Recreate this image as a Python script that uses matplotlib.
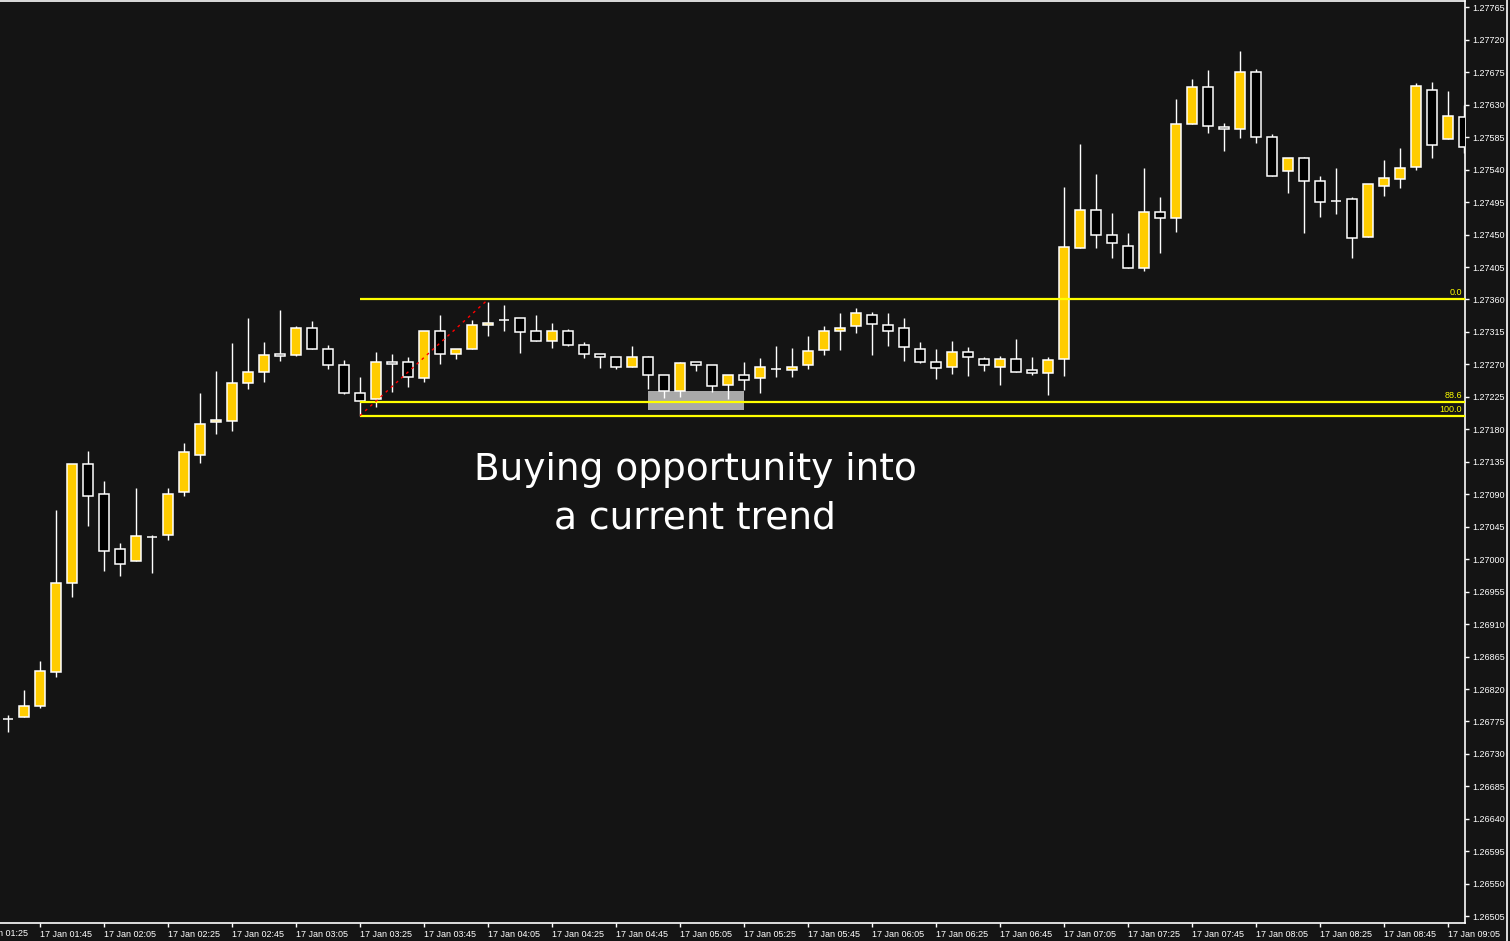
import matplotlib
matplotlib.use("Agg")
import matplotlib.pyplot as plt
from matplotlib.patches import Rectangle
import numpy as np

# 5 minute GBP candles, 17 Jan 01:35 .. 09:10
opens = [1.26778, 1.26781, 1.26797, 1.26843, 1.26967, 1.27132, 1.27090, 1.27014, 1.26997, 1.27031,
         1.27033, 1.27093, 1.27145, 1.27190, 1.27191, 1.27244, 1.27260, 1.27284, 1.27283, 1.27320,
         1.27291, 1.27269, 1.27230, 1.27222, 1.27273, 1.27273, 1.27251, 1.27316, 1.27284, 1.27291,
         1.27324, 1.27331, 1.27334, 1.27316, 1.27303, 1.27317, 1.27297, 1.27284, 1.27280, 1.27267,
         1.27280, 1.27255, 1.27233, 1.27273, 1.27269, 1.27242, 1.27255, 1.27251, 1.27263, 1.27262,
         1.27269, 1.27290, 1.27317, 1.27323, 1.27338, 1.27324, 1.27320, 1.27292, 1.27273, 1.27266,
         1.27287, 1.27277, 1.27266, 1.27278, 1.27262, 1.27258, 1.27277, 1.27432, 1.27484, 1.27449,
         1.27434, 1.27404, 1.27481, 1.27473, 1.27603, 1.27654, 1.27599, 1.27597, 1.27676, 1.27585,
         1.27538, 1.27556, 1.27524, 1.27496, 1.27499, 1.27446, 1.27518, 1.27527, 1.27543, 1.27650,
         1.27582, 1.27613]
highs = [1.26784, 1.26819, 1.26859, 1.27068, 1.27132, 1.27150, 1.27108, 1.27022, 1.27099, 1.27034,
         1.27099, 1.27161, 1.27230, 1.27261, 1.27300, 1.27334, 1.27301, 1.27345, 1.27323, 1.27330,
         1.27297, 1.27276, 1.27253, 1.27287, 1.27284, 1.27280, 1.27316, 1.27339, 1.27292, 1.27332,
         1.27357, 1.27352, 1.27334, 1.27339, 1.27327, 1.27319, 1.27301, 1.27284, 1.27280, 1.27296,
         1.27281, 1.27256, 1.27273, 1.27273, 1.27269, 1.27255, 1.27273, 1.27279, 1.27296, 1.27293,
         1.27309, 1.27323, 1.27341, 1.27348, 1.27343, 1.27341, 1.27334, 1.27301, 1.27291, 1.27302,
         1.27294, 1.27280, 1.27282, 1.27305, 1.27280, 1.27280, 1.27516, 1.27576, 1.27534, 1.27480,
         1.27452, 1.27542, 1.27502, 1.27638, 1.27665, 1.27678, 1.27604, 1.27705, 1.27679, 1.27590,
         1.27556, 1.27557, 1.27531, 1.27542, 1.27502, 1.27520, 1.27553, 1.27570, 1.27660, 1.27662,
         1.27649, 1.27629]
lows = [1.26761, 1.26781, 1.26793, 1.26836, 1.26948, 1.27046, 1.26983, 1.26976, 1.26997, 1.26981,
        1.27026, 1.27087, 1.27134, 1.27174, 1.27178, 1.27236, 1.27246, 1.27275, 1.27281, 1.27291,
        1.27263, 1.27229, 1.27199, 1.27211, 1.27232, 1.27239, 1.27245, 1.27271, 1.27278, 1.27291,
        1.27310, 1.27317, 1.27286, 1.27303, 1.27293, 1.27295, 1.27279, 1.27265, 1.27264, 1.27266,
        1.27236, 1.27224, 1.27225, 1.27261, 1.27232, 1.27222, 1.27235, 1.27231, 1.27252, 1.27252,
        1.27264, 1.27283, 1.27290, 1.27313, 1.27283, 1.27296, 1.27275, 1.27272, 1.27250, 1.27257,
        1.27254, 1.27261, 1.27242, 1.27259, 1.27256, 1.27228, 1.27254, 1.27432, 1.27432, 1.27418,
        1.27403, 1.27400, 1.27425, 1.27454, 1.27603, 1.27591, 1.27566, 1.27584, 1.27577, 1.27531,
        1.27508, 1.27452, 1.27475, 1.27479, 1.27417, 1.27446, 1.27503, 1.27514, 1.27540, 1.27556,
        1.27582, 1.27563]
closes = [1.26778, 1.26797, 1.26845, 1.26967, 1.27132, 1.27088, 1.27012, 1.26993, 1.27032, 1.27031,
          1.27091, 1.27148, 1.27187, 1.27193, 1.27244, 1.27259, 1.27283, 1.27281, 1.27321, 1.27291,
          1.27269, 1.27231, 1.27219, 1.27273, 1.27270, 1.27252, 1.27316, 1.27285, 1.27292, 1.27324,
          1.27328, 1.27331, 1.27315, 1.27303, 1.27317, 1.27297, 1.27284, 1.27280, 1.27266, 1.27280,
          1.27255, 1.27233, 1.27272, 1.27269, 1.27240, 1.27255, 1.27249, 1.27266, 1.27263, 1.27266,
          1.27288, 1.27317, 1.27321, 1.27341, 1.27326, 1.27317, 1.27294, 1.27274, 1.27265, 1.27287,
          1.27280, 1.27269, 1.27277, 1.27259, 1.27258, 1.27276, 1.27433, 1.27484, 1.27450, 1.27438,
          1.27403, 1.27481, 1.27473, 1.27603, 1.27654, 1.27600, 1.27596, 1.27676, 1.27585, 1.27531,
          1.27556, 1.27524, 1.27495, 1.27496, 1.27445, 1.27520, 1.27529, 1.27542, 1.27656, 1.27574,
          1.27614, 1.27571]

# time axis labels, one every 4 candles (first one sits left of the first candle)
time_labels = ["17 Jan 01:25", "17 Jan 01:45", "17 Jan 02:05", "17 Jan 02:25", "17 Jan 02:45",
               "17 Jan 03:05", "17 Jan 03:25", "17 Jan 03:45", "17 Jan 04:05", "17 Jan 04:25",
               "17 Jan 04:45", "17 Jan 05:05", "17 Jan 05:25", "17 Jan 05:45", "17 Jan 06:05",
               "17 Jan 06:25", "17 Jan 06:45", "17 Jan 07:05", "17 Jan 07:25", "17 Jan 07:45",
               "17 Jan 08:05", "17 Jan 08:25", "17 Jan 08:45", "17 Jan 09:05"]
first_label_idx = -2

# fibonacci drawn from the 03:25 low to the 04:05 high
fib_start_idx, fib_end_idx = 22, 30
fib_high, fib_low = 1.27360, 1.27199
fib_ratios = [0.0, 88.6, 100.0]

# grey zone 04:55 .. 05:25
zone_idx = (40, 46)
zone_prices = (1.27207, 1.27233)

price_ticks = [1.26505 + 0.00045 * k for k in range(29)]

BG = "#141414"
BULL = "#ffcc00"
BEAR = "#000000"
FIB = "#ffff00"
FG = "#ffffff"


def main():
    fig = plt.figure(figsize=(15.10, 9.41), dpi=100, facecolor=BG)
    ax = fig.add_axes([0.0, 1 - 923 / 941, 1465 / 1510, 922 / 941])
    ax.set_facecolor(BG)

    o = np.array(opens)
    h = np.array(highs)
    lo = np.array(lows)
    c = np.array(closes)
    idx = np.arange(len(o))

    ax.vlines(idx, lo, h, color=FG, lw=1.0, zorder=3)
    body_low = np.minimum(o, c)
    body_h = np.abs(c - o)
    colors = [BULL if cc > oo else BEAR for oo, cc in zip(o, c)]
    ax.bar(idx, body_h, bottom=body_low, width=0.62, color=colors,
           edgecolor=FG, linewidth=1.1, zorder=4)

    # grey zone
    ax.add_patch(Rectangle((zone_idx[0], zone_prices[0]), zone_idx[1] - zone_idx[0],
                           zone_prices[1] - zone_prices[0], facecolor="#a9a9a9",
                           edgecolor="none", zorder=2))

    # fib levels
    x_right = (1465 - 8) / 16
    for r in fib_ratios:
        lvl = fib_high - (fib_high - fib_low) * r / 100
        ax.hlines(lvl, fib_start_idx, x_right, color=FIB, lw=1.6, zorder=5)
        ax.annotate(f"{r:.1f}", (x_right, lvl), xytext=(-2, 1.5), textcoords="offset points",
                    ha="right", va="bottom", color=FIB, fontsize=6.5,
                    family="Liberation Sans", zorder=6)
    ax.plot([fib_start_idx, fib_end_idx], [fib_low, fib_high], color="#ff0000",
            lw=1.0, ls=(0, (2, 3)), zorder=5)

    ax.set_xlim(-0.5, x_right)
    ax.set_ylim(1.264956, 1.277738)

    # axes styling
    for side in ("top", "right", "bottom"):
        ax.spines[side].set_color(FG)
        ax.spines[side].set_linewidth(1.2)
    ax.spines["left"].set_visible(False)

    ax.yaxis.tick_right()
    ax.set_yticks(price_ticks)
    ax.set_yticklabels([f"{p:.5f}" for p in price_ticks])
    ax.tick_params(axis="y", colors=FG, length=3, width=1, pad=2, labelsize=6.5)

    tick_pos = [first_label_idx + 4 * k for k in range(1, len(time_labels))]
    ax.set_xticks(tick_pos)
    ax.set_xticklabels(time_labels[1:], ha="left")
    ax.tick_params(axis="x", colors=FG, length=3, width=1, pad=2, labelsize=6.5)
    for lab in ax.get_xticklabels() + ax.get_yticklabels():
        lab.set_family("Liberation Sans")
    # partly hidden label left of the first candle, as in the terminal screenshot
    ax.text(first_label_idx, -0.006, time_labels[0], transform=ax.get_xaxis_transform(),
            ha="left", va="top", color=FG, fontsize=6.5, family="Liberation Sans",
            clip_on=False)

    # outer window border on the right
    fig.add_artist(plt.Line2D([1507 / 1510] * 2, [0, 1], color=FG, lw=1.2))

    fig.text(695 / 1510, 1 - 494 / 941, "Buying opportunity into\na current trend",
             ha="center", va="center", color=FG, fontsize=27, linespacing=1.45,
             family="DejaVu Sans")

    fig.savefig("out.png", dpi=100, facecolor=BG)


if __name__ == '__main__':
    main()
